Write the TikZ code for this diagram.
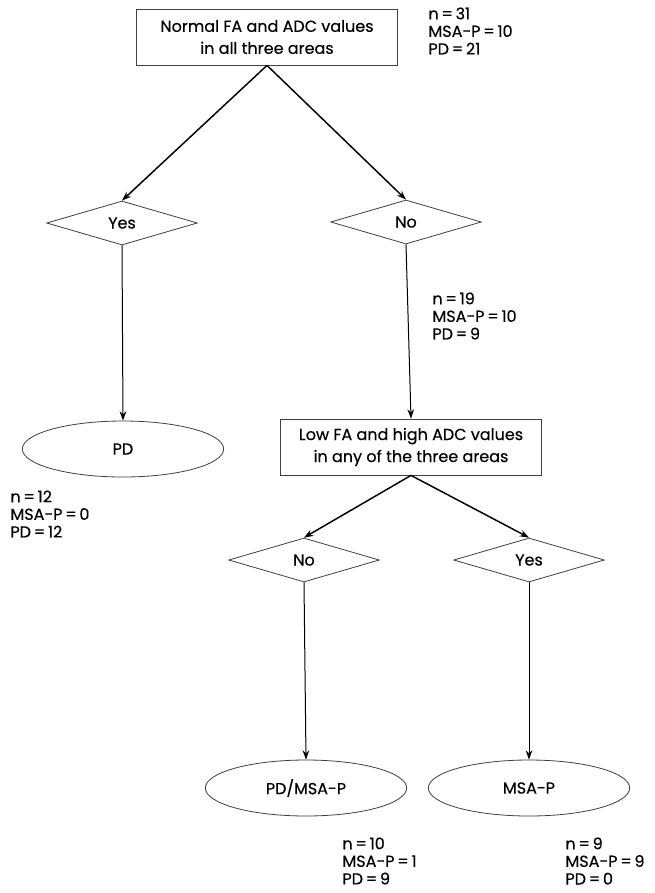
\documentclass[tikz,border=0pt]{standalone}
\usepackage{fontspec}
\setmainfont{Poppins}[FakeBold=0.35]
\usetikzlibrary{shapes.geometric,arrows.meta}

\tikzset{every picture/.style={line width=0.75pt}}
\tikzset{
  question/.style={draw=black!75,line width=0.6pt,rectangle,minimum width=196pt,minimum height=42pt,align=center,inner sep=0pt,font=\fontsize{12}{16.5}\selectfont},
  answer/.style={draw=black!75,line width=0.6pt,diamond,minimum width=113pt,minimum height=33pt,inner sep=0pt,font=\fontsize{12}{13}\selectfont},
  outcome/.style={draw=black!75,line width=0.6pt,ellipse,minimum width=151pt,minimum height=42pt,inner sep=0pt,font=\fontsize{12}{13}\selectfont},
  counts/.style={anchor=north west,inner sep=0.75pt,align=left,font=\fontsize{12}{13.2}\selectfont},
  branch/.style={line width=1.1pt,-{Stealth[length=7pt,width=5pt]}},
  stem/.style={line width=0.75pt,-{Stealth[length=7pt,width=5pt]}}
}

\begin{document}
\begin{tikzpicture}[x=0.75pt,y=0.75pt,yscale=-1,xscale=1]
\path[fill=white] (0,0) rectangle (655,893);

% first question
\node[question] (normal) at (267,37) {Normal FA and ADC values\\in all three areas};
\node[counts] (cntall) at (427,6) {n\,=\,31\\MSA-P\,=\,10\\PD\,=\,21};

% first answers
\node[answer] (yesA) at (122,223) {Yes};
\node[answer] (noA) at (406,222) {No};

% left outcome
\node[outcome] (pd) at (123,449) {PD};
\node[counts] (cntpd) at (9,489) {n\,=\,12\\MSA-P\,=\,0\\PD\,=\,12};

% second question
\node[counts] (cntno) at (431,291) {n\,=\,19\\MSA-P\,=\,10\\PD\,=\,9};
\node[question] (low) at (411,447) {Low FA and high ADC values\\in any of the three areas};

% second answers
\node[answer] (noB) at (304,560) {No};
\node[answer] (yesB) at (529,560) {Yes};

% bottom outcomes
\node[outcome] (mixed) at (306,788) {PD/MSA-P};
\node[outcome] (msap) at (529,788) {MSA-P};
\node[counts] (cntmixed) at (341,836) {n\,=\,10\\MSA-P\,=\,1\\PD\,=\,9};
\node[counts] (cntmsap) at (564,836) {n\,=\,9\\MSA-P\,=\,9\\PD\,=\,0};

% connectors
\draw[branch] (normal.south) -- (yesA.north);
\draw[branch] (normal.south) -- (noA.north);
\draw[stem] (yesA.south) -- (pd.north);
\draw[stem] (noA.south) -- (low.north);
\draw[branch] (low.south) -- (noB.north);
\draw[branch] (low.south) -- (yesB.north);
\draw[stem] (noB.south) -- (mixed.north);
\draw[stem] (yesB.south) -- (msap.north);

\end{tikzpicture}
\end{document}
